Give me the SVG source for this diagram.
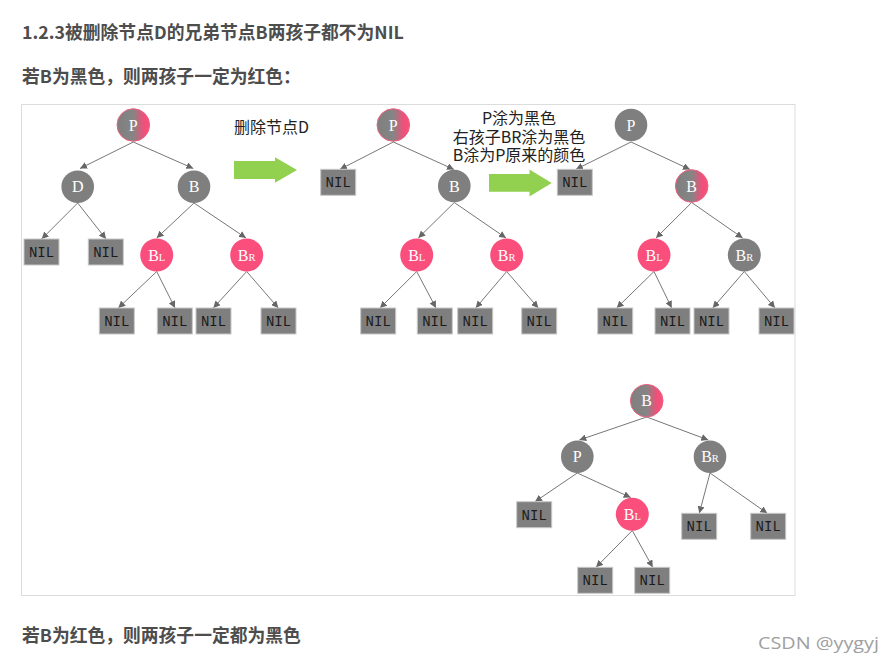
<svg xmlns="http://www.w3.org/2000/svg" width="890" height="666" viewBox="0 0 890 666">
<defs>
  <linearGradient id="grad" x1="0" y1="0" x2="1" y2="0">
    <stop offset="0" stop-color="#7f7f7f"/>
    <stop offset="0.5" stop-color="#858585"/>
    <stop offset="0.82" stop-color="#f0507a"/>
    <stop offset="1" stop-color="#f8507b"/>
  </linearGradient>
  <marker id="ah" viewBox="0 0 8 8" refX="8" refY="4" markerWidth="7" markerHeight="7" markerUnits="userSpaceOnUse" orient="auto">
    <path d="M0,0 L8,4 L0,8 Z" fill="#666"/>
  </marker>
</defs>
<style>
  .title { font-family: "Noto Sans CJK SC", "Noto Sans", sans-serif; font-weight: bold; font-size: 17.8px; fill: #4d4d4d; }
  .lbl { font-family: "Noto Sans CJK SC", sans-serif; font-size: 16px; fill: #222; }
  .gray { fill: #7f7f7f; }
  .red { fill: #fa4f7c; }
  .grad { fill: url(#grad); stroke: #f06080; stroke-width: 1; }
  .nt { font-family: "Liberation Serif", serif; font-size: 16px; fill: #fff; text-anchor: middle; }
  .box { fill: #7f7f7f; stroke: #c8c8c8; stroke-width: 1; }
  .nil { font-family: "Liberation Mono", monospace; font-size: 14px; fill: #1a1a1a; text-anchor: middle; }
  .edge { stroke: #777; stroke-width: 1; fill: none; marker-end: url(#ah); }
  .green { fill: #92d050; }
</style>
<rect width="890" height="666" fill="#fff"/>
<text class="title" x="22" y="39">1.2.3被删除节点D的兄弟节点B两孩子都不为NIL</text>
<text class="title" x="22" y="83">若B为黑色，则两孩子一定为红色：</text>
<rect x="21.5" y="104.5" width="773.5" height="491" fill="none" stroke="#dcdcdc" stroke-width="1"/>

<g id="labels">
  <text class="lbl" x="234" y="133">删除节点D</text>
  <text class="lbl" text-anchor="middle"><tspan x="519" y="124">P涂为黑色</tspan><tspan x="519" y="142.5">右孩子BR涂为黑色</tspan><tspan x="519" y="161">B涂为P原来的颜色</tspan></text>
</g>
<g id="arrow1"><polygon class="green" points="234,161 275,161 275,157.3 297,170 275,182.7 275,179 234,179"/></g>
<g id="arrow2"><polygon class="green" points="489,174 529.5,174 529.5,169.5 551.7,183 529.5,196.5 529.5,191.7 489,191.7"/></g>

<g id="connectors">
  <line class="edge" x1="133.3" y1="142" x2="80" y2="168.5"/>
  <line class="edge" x1="133.3" y1="142" x2="193.3" y2="168.5"/>
  <line class="edge" x1="77.7" y1="203" x2="41.7" y2="239"/>
  <line class="edge" x1="77.7" y1="203" x2="106" y2="239"/>
  <line class="edge" x1="194" y1="203" x2="156.7" y2="238"/>
  <line class="edge" x1="194" y1="203" x2="246" y2="238"/>
  <line class="edge" x1="156.7" y1="271.5" x2="118.3" y2="308"/>
  <line class="edge" x1="156.7" y1="271.5" x2="175" y2="308"/>
  <line class="edge" x1="246.7" y1="271.5" x2="213.3" y2="308"/>
  <line class="edge" x1="246.7" y1="271.5" x2="278.3" y2="308"/>
  <line class="edge" x1="393.3" y1="142" x2="340" y2="169.3"/>
  <line class="edge" x1="393.3" y1="142" x2="454" y2="169.5"/>
  <line class="edge" x1="454.3" y1="202.5" x2="418.3" y2="238"/>
  <line class="edge" x1="454.3" y1="202.5" x2="506" y2="238"/>
  <line class="edge" x1="416.7" y1="271.5" x2="380" y2="308"/>
  <line class="edge" x1="416.7" y1="271.5" x2="436" y2="308"/>
  <line class="edge" x1="506.7" y1="271.5" x2="475.7" y2="308"/>
  <line class="edge" x1="506.7" y1="271.5" x2="538.3" y2="308"/>
  <line class="edge" x1="631" y1="142" x2="576" y2="169.3"/>
  <line class="edge" x1="631" y1="142" x2="690" y2="169.5"/>
  <line class="edge" x1="691.7" y1="202.5" x2="656" y2="238"/>
  <line class="edge" x1="691.7" y1="202.5" x2="742.7" y2="238"/>
  <line class="edge" x1="654" y1="271.5" x2="616.7" y2="308"/>
  <line class="edge" x1="654" y1="271.5" x2="671.7" y2="308"/>
  <line class="edge" x1="744.3" y1="271.5" x2="712.7" y2="308"/>
  <line class="edge" x1="744.3" y1="271.5" x2="775" y2="308"/>
  <line class="edge" x1="646.7" y1="417" x2="579.3" y2="440"/>
  <line class="edge" x1="646.7" y1="417" x2="708.3" y2="440"/>
  <line class="edge" x1="577.3" y1="473" x2="535" y2="501.7"/>
  <line class="edge" x1="577.3" y1="473" x2="630.7" y2="497.5"/>
  <line class="edge" x1="710" y1="473" x2="699.3" y2="513.3"/>
  <line class="edge" x1="710" y1="473" x2="767.3" y2="513.3"/>
  <line class="edge" x1="632.3" y1="530.5" x2="596" y2="567.3"/>
  <line class="edge" x1="632.3" y1="530.5" x2="652.7" y2="567.3"/>
</g>

<g id="t1-P"><circle class="grad" cx="133.3" cy="125" r="16.3"/><text class="nt" x="133.3" y="130.5">P</text></g>
<g id="t1-D"><circle class="gray" cx="77.7" cy="186.7" r="16.3"/><text class="nt" x="77.7" y="192.2">D</text></g>
<g id="t1-B"><circle class="gray" cx="194" cy="186.7" r="16.3"/><text class="nt" x="194" y="192.2">B</text></g>
<g id="t1-BL"><circle class="red" cx="156.7" cy="255" r="16.5"/><text class="nt" x="156.7" y="260.5">B<tspan font-size="10.5">L</tspan></text></g>
<g id="t1-BR"><circle class="red" cx="246.7" cy="255" r="16.5"/><text class="nt" x="246.7" y="260.5">B<tspan font-size="10.5">R</tspan></text></g>
<g id="t1-n1"><rect class="box" x="24" y="239" width="35" height="26"/><text class="nil" x="41.5" y="257">NIL</text></g>
<g id="t1-n2"><rect class="box" x="88.3" y="239" width="35" height="26"/><text class="nil" x="105.8" y="257">NIL</text></g>
<g id="t1-n3"><rect class="box" x="99.3" y="308" width="35" height="26"/><text class="nil" x="116.8" y="326">NIL</text></g>
<g id="t1-n4"><rect class="box" x="157.3" y="308" width="35" height="26"/><text class="nil" x="174.8" y="326">NIL</text></g>
<g id="t1-n5"><rect class="box" x="196" y="308" width="35" height="26"/><text class="nil" x="213.5" y="326">NIL</text></g>
<g id="t1-n6"><rect class="box" x="261" y="308" width="35" height="26"/><text class="nil" x="278.5" y="326">NIL</text></g>

<g id="t2-P"><circle class="grad" cx="393.3" cy="125" r="16.3"/><text class="nt" x="393.3" y="130.5">P</text></g>
<g id="t2-n1"><rect class="box" x="320.7" y="169.3" width="35" height="26"/><text class="nil" x="338.2" y="187.3">NIL</text></g>
<g id="t2-B"><circle class="gray" cx="454.3" cy="186" r="16.3"/><text class="nt" x="454.3" y="191.5">B</text></g>
<g id="t2-BL"><circle class="red" cx="416.7" cy="255" r="16.5"/><text class="nt" x="416.7" y="260.5">B<tspan font-size="10.5">L</tspan></text></g>
<g id="t2-BR"><circle class="red" cx="506.7" cy="255" r="16.5"/><text class="nt" x="506.7" y="260.5">B<tspan font-size="10.5">R</tspan></text></g>
<g id="t2-n3"><rect class="box" x="360.7" y="308" width="35" height="26"/><text class="nil" x="378.2" y="326">NIL</text></g>
<g id="t2-n4"><rect class="box" x="417.3" y="308" width="35" height="26"/><text class="nil" x="434.8" y="326">NIL</text></g>
<g id="t2-n5"><rect class="box" x="457.7" y="308" width="35" height="26"/><text class="nil" x="475.2" y="326">NIL</text></g>
<g id="t2-n6"><rect class="box" x="521.7" y="308" width="35" height="26"/><text class="nil" x="539.2" y="326">NIL</text></g>

<g id="t3-P"><circle class="gray" cx="631" cy="125" r="16.3"/><text class="nt" x="631" y="130.5">P</text></g>
<g id="t3-n1"><rect class="box" x="557.3" y="169.3" width="35" height="26"/><text class="nil" x="574.8" y="187.3">NIL</text></g>
<g id="t3-B"><circle class="grad" cx="691.7" cy="186" r="16.3"/><text class="nt" x="691.7" y="191.5">B</text></g>
<g id="t3-BL"><circle class="red" cx="654" cy="255" r="16.5"/><text class="nt" x="654" y="260.5">B<tspan font-size="10.5">L</tspan></text></g>
<g id="t3-BR"><circle class="gray" cx="744.3" cy="255" r="16.5"/><text class="nt" x="744.3" y="260.5">B<tspan font-size="10.5">R</tspan></text></g>
<g id="t3-n3"><rect class="box" x="597.7" y="308" width="35" height="26"/><text class="nil" x="615.2" y="326">NIL</text></g>
<g id="t3-n4"><rect class="box" x="655" y="308" width="35" height="26"/><text class="nil" x="672.5" y="326">NIL</text></g>
<g id="t3-n5"><rect class="box" x="694" y="308" width="35" height="26"/><text class="nil" x="711.5" y="326">NIL</text></g>
<g id="t3-n6"><rect class="box" x="759" y="308" width="35" height="26"/><text class="nil" x="776.5" y="326">NIL</text></g>

<g id="t4-B"><circle class="grad" cx="646.7" cy="400.7" r="16.3"/><text class="nt" x="646.7" y="406.2">B</text></g>
<g id="t4-P"><circle class="gray" cx="577.3" cy="456.7" r="16.3"/><text class="nt" x="577.3" y="462.2">P</text></g>
<g id="t4-BR"><circle class="gray" cx="710" cy="456.7" r="16.3"/><text class="nt" x="710" y="462.2">B<tspan font-size="10.5">R</tspan></text></g>
<g id="t4-BL"><circle class="red" cx="632.3" cy="514.3" r="16.5"/><text class="nt" x="632.3" y="519.8">B<tspan font-size="10.5">L</tspan></text></g>
<g id="t4-n1"><rect class="box" x="516.7" y="501.7" width="35" height="26"/><text class="nil" x="534.2" y="519.7">NIL</text></g>
<g id="t4-n2"><rect class="box" x="681.7" y="513.3" width="35" height="26"/><text class="nil" x="699.2" y="531.3">NIL</text></g>
<g id="t4-n3"><rect class="box" x="750.7" y="513.3" width="35" height="26"/><text class="nil" x="768.2" y="531.3">NIL</text></g>
<g id="t4-n4"><rect class="box" x="577.7" y="567.3" width="35" height="26"/><text class="nil" x="595.2" y="585.3">NIL</text></g>
<g id="t4-n5"><rect class="box" x="634.7" y="567.3" width="35" height="26"/><text class="nil" x="652.2" y="585.3">NIL</text></g>

<text class="title" x="22" y="642">若B为红色，则两孩子一定都为黑色</text>
<text x="758" y="649" font-family="'Open Sans', 'Noto Sans', sans-serif" font-size="17" fill="#a0a0a0" textLength="121" lengthAdjust="spacingAndGlyphs">CSDN @yygyj</text>
</svg>
